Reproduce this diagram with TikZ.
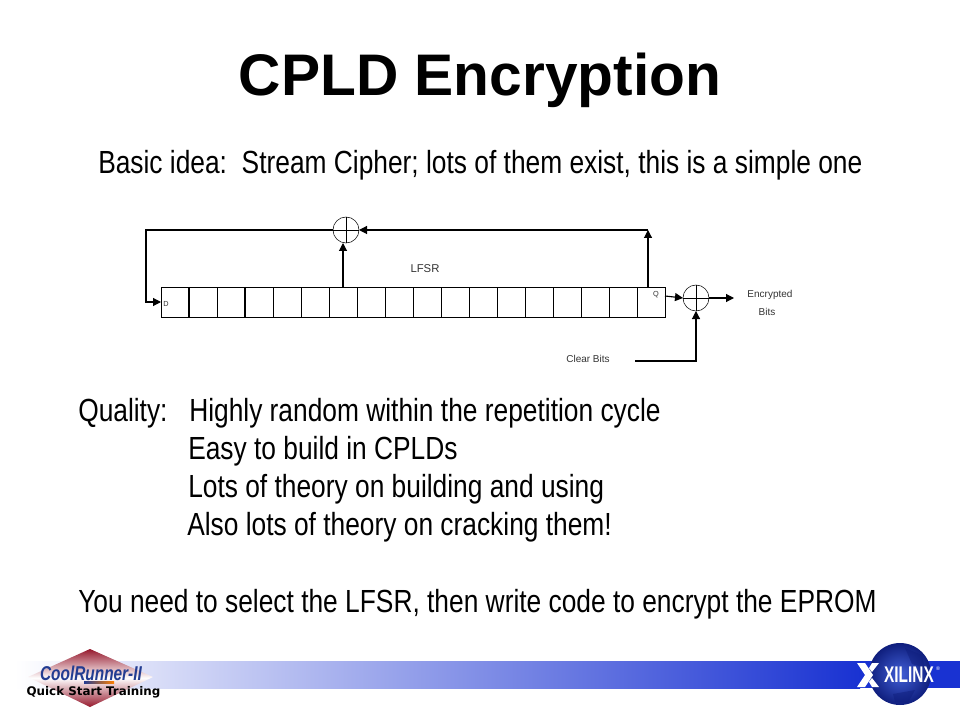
\documentclass[tikz,border=0pt]{standalone}
\usepackage{fontspec}
\setmainfont{Liberation Sans}
\newfontfamily\narrowfont[FakeStretch=0.823]{Liberation Sans}
\newfontfamily\coolfont[FakeStretch=0.77]{Liberation Sans}
\newfontfamily\xilfont[FakeStretch=0.68]{Liberation Sans}
\newfontfamily\trainfont{DejaVu Sans}
\usetikzlibrary{arrows.meta}
\definecolor{barblue}{RGB}{25,50,210}
\definecolor{logored}{RGB}{150,25,45}
\definecolor{logoblue}{RGB}{35,60,145}
\definecolor{globelight}{RGB}{65,95,215}
\definecolor{globedark}{RGB}{15,30,125}
\tikzset{
  cellbox/.style={draw,minimum width=21pt,minimum height=22.5pt,inner sep=0pt,outer sep=0pt},
  xorgate/.style={circle,draw,minimum size=19.5pt,inner sep=0pt,outer sep=0pt,
    path picture={\draw (path picture bounding box.north)--(path picture bounding box.south)
      (path picture bounding box.west)--(path picture bounding box.east);}},
  flow/.style={line width=0.85pt,-{Triangle[length=6pt,width=6pt]}},
  tiny label/.style={font=\fontsize{7.5}{9}\selectfont,text=black!80,inner sep=0pt},
  bodytext/.style={font=\narrowfont\fontsize{24}{28}\selectfont,anchor=base west,inner sep=0pt},
}
\begin{document}
\begin{tikzpicture}[x=0.75pt,y=-0.75pt]
  \useasboundingbox (0,0) rectangle (960,720);
  \shade[left color=white,right color=barblue] (15,661) rectangle (860,688);
  \fill[barblue] (860,661) rectangle (960,688);
  \node[font=\bfseries\fontsize{44}{50}\selectfont,inner sep=0pt] (title) at (480,80) {CPLD Encryption};
  \node[bodytext] (idea) at (98,174) {Basic idea:\hspace{11pt}Stream Cipher; lots of them exist, this is a simple one};
  \foreach \i in {1,...,18}
    \node[cellbox] (c\i) at (147+28*\i,302) {};
  \draw[line width=1.2pt] (c1.north east)--(c1.south east) (c3.north east)--(c3.south east);
  \node[xorgate] (xortop) at (346,230) {};
  \node[xorgate] (xorout) at (696,298) {};
  \coordinate (fbk) at (146,230);
  \coordinate (tapq) at (648,287);
  \coordinate (tapup) at (648,230);
  \coordinate (qout) at (665,296);
  \coordinate (clear) at (635,361);
  \coordinate (enc) at (734,298);
  \draw[flow] (xortop.west)--(fbk)|-(c1.west);
  \draw[flow] (c7.north)--(c7.north |- xortop.south);
  \draw[flow] (tapq)--(tapup);
  \draw[flow] (tapup)--(xortop.east);
  \draw[flow] (qout)--(xorout.west);
  \draw[flow] (xorout.east)--(enc);
  \draw[flow] (clear)-|(xorout.south);
  \node[tiny label,font=\fontsize{5.5}{6}\selectfont] (dlab) at (166,304) {D};
  \node[tiny label,font=\fontsize{5.5}{6}\selectfont] (qlab) at (656,295) {Q};
  \node[tiny label,font=\fontsize{8.5}{10}\selectfont] (lfsr) at (425,269) {LFSR};
  \node[tiny label] (encl) at (770,295) {Encrypted};
  \node[tiny label] (bitsl) at (767,312) {Bits};
  \node[tiny label] (clearl) at (588,359) {Clear Bits};
  \node[bodytext] (qual) at (78,421) {Quality:};
  \node[bodytext] (l1) at (189,421) {Highly random within the repetition cycle};
  \node[bodytext] (l2) at (188,459) {Easy to build in CPLDs};
  \node[bodytext] (l3) at (188,497) {Lots of theory on building and using};
  \node[bodytext] (l4) at (187,535) {Also lots of theory on cracking them!};
  \node[bodytext] (need) at (78,612) {You need to select the LFSR, then write code to encrypt the EPROM};
  \shade[top color=logored,bottom color=logored,middle color=white] (90,649)--(153,677)--(90,707)--(28,677)--cycle;
  \node[font=\coolfont\bfseries\itshape\fontsize{15}{18}\selectfont,text=logoblue,inner sep=0pt] (cool) at (91,673) {CoolRunner-II};
  \shade[left color=logoblue,right color=orange] (84,681) rectangle (114,683);
  \node[font=\trainfont\bfseries\fontsize{8.9}{11}\selectfont,inner sep=0pt] (train) at (93.5,692) {Quick Start Training};
  \shade[inner color=globelight,outer color=globedark] (900,674) circle (31);
  \fill[globedark,opacity=.5] (905,648)--(922,655)--(925,668)--(912,664)--cycle (893,694)--(915,690)--(908,703)--(895,702)--cycle;
  \fill[white] (857,663)--(865,663)--(873,675)--(865,687)--(857,687)--(865,675)--cycle (879,663)--(872,663)--(869,668)--(872,672)--cycle (879,687)--(872,687)--(869,682)--(872,678)--cycle;
  \node[font=\xilfont\bfseries\fontsize{17}{20}\selectfont,text=white,inner sep=0pt] (xil) at (909,675) {XILINX};
  \node[font=\fontsize{4}{5}\selectfont,text=white,inner sep=0pt] (reg) at (938,669) {®};
\end{tikzpicture}
\end{document}
